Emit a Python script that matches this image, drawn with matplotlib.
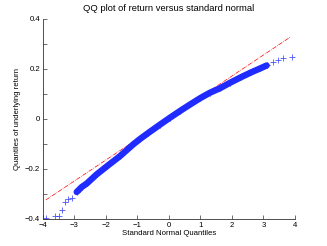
"""QQ plot of return versus standard normal (MATLAB-style look)."""

import matplotlib

matplotlib.use("Agg")
import matplotlib.pyplot as plt

# sparse tail points (standard normal quantile, sample quantile)
tail_x = [-3.90, -3.62, -3.49, -3.41, -3.30, -3.20, -3.07,
          3.31, 3.47, 3.63, 3.91]
tail_y = [-0.397, -0.388, -0.388, -0.365, -0.331, -0.321, -0.317,
          0.228, 0.235, 0.245, 0.248]

# dense body of the distribution
core_x = [-2.93, -2.77, -2.61, -2.30, -1.98, -1.56, -1.13, -0.92, -0.67,
          -0.29, 0.03, 0.35, 0.67, 1.00, 1.30, 1.62, 1.94, 2.30, 2.60,
          2.89, 3.10]
core_y = [-0.292, -0.272, -0.258, -0.222, -0.190, -0.149, -0.101, -0.080,
          -0.057, -0.023, 0.005, 0.032, 0.058, 0.084, 0.105, 0.123, 0.145,
          0.168, 0.186, 0.202, 0.214]

# reference line through the quartiles, extended over the data range
ref_x = [-3.91, 3.87]
ref_y = [-0.324, 0.329]

x_ticks = [-4, -3, -2, -1, 0, 1, 2, 3, 4]
y_ticks = [-0.4, -0.3, -0.2, -0.1, 0, 0.1, 0.2, 0.3, 0.4]
y_labels = ["\u22120.4", "", "\u22120.2", "", "0", "", "0.2", "", "0.4"]

plt.rcParams["font.family"] = ["Liberation Sans", "DejaVu Sans"]
plt.rcParams["font.size"] = 5.6

fig = plt.figure(figsize=(3.27, 2.46), dpi=100)
ax = fig.add_axes([0.1315, 0.1098, 0.7705, 0.813])

blue = "#1f2bff"
ax.plot(ref_x, ref_y, color="red", linestyle="-.", linewidth=0.5, zorder=1)
ax.plot(core_x, core_y, color=blue, linewidth=4.6, solid_capstyle="round",
        solid_joinstyle="round", zorder=2)
ax.plot(core_x, core_y, "+", color=blue, markersize=5, markeredgewidth=0.6,
        zorder=2)
ax.plot(tail_x, tail_y, "+", color=blue, markersize=5, markeredgewidth=0.6,
        alpha=0.8, zorder=2)

ax.set_xlim(-4, 4)
ax.set_ylim(-0.4, 0.4)
ax.set_xticks(x_ticks)
ax.set_xticklabels([str(t).replace("-", "\u2212") for t in x_ticks])
ax.set_yticks(y_ticks)
ax.set_yticklabels(y_labels)

for side in ["top", "right"]:
    ax.spines[side].set_visible(False)
for side in ["left", "bottom"]:
    ax.spines[side].set_linewidth(0.6)
    ax.spines[side].set_color("#333333")
ax.tick_params(direction="in", length=3, width=0.5, pad=2, colors="#333333",
               labelcolor="black")

ax.set_title("QQ plot of return versus standard normal", pad=6)
ax.set_xlabel("Standard Normal Quantiles", labelpad=1)
ax.set_ylabel("Quantiles of underlying return", labelpad=3)

fig.savefig("out.png", dpi=100)
plt.close(fig)
